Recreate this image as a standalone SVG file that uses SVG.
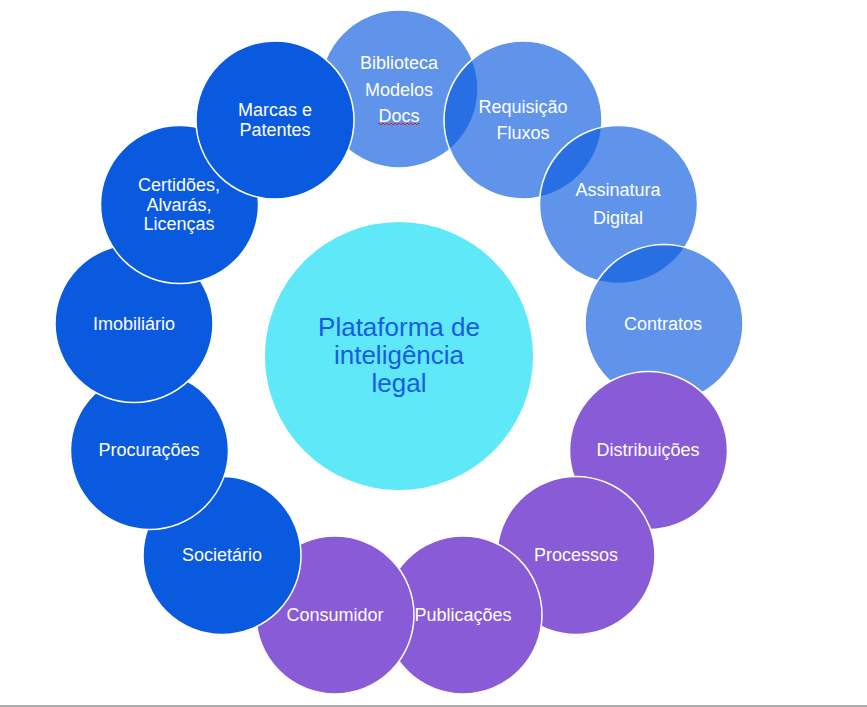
<svg xmlns="http://www.w3.org/2000/svg" width="867" height="707" viewBox="0 0 867 707">
<style>
.c{stroke:#ffffff;stroke-width:1.5}
.dk{fill:#0A5AE0}
.lt{fill:#0A5AE0;fill-opacity:0.65}
.pu{fill:#8A5BD6}
.t{font-family:"Liberation Sans",Arial,sans-serif;font-size:18px;fill:#ffffff;text-anchor:middle}
.ct{font-family:"Liberation Sans",Arial,sans-serif;font-size:26px;fill:#1A5CE0;text-anchor:middle}
</style>
<rect x="0" y="0" width="867" height="707" fill="#ffffff"/>
<g id="center">
<circle cx="399" cy="356" r="134" fill="#5EE8F8"/>
<text class="ct" x="399" y="336">Plataforma de</text>
<text class="ct" x="399" y="364">inteligência</text>
<text class="ct" x="399" y="392">legal</text>
</g>
<g id="biblioteca">
<circle class="c lt" cx="399" cy="89" r="79"/>
<text class="t" x="399" y="69">Biblioteca</text>
<text class="t" x="399" y="96">Modelos</text>
<text class="t" x="399" y="122">Docs</text>
<path d="M378 124 q1 -2 2 0 t2 0 t2 0 t2 0 t2 0 t2 0 t2 0 t2 0 t2 0 t2 0 t2 0 t2 0 t2 0 t2 0 t2 0 t2 0 t2 0 t2 0 t2 0 t2 0 t2 0" fill="none" stroke="#E02020" stroke-width="1"/>
</g>
<g id="requisicao">
<circle class="c lt" cx="523" cy="120" r="79"/>
<text class="t" x="523" y="113">Requisição</text>
<text class="t" x="523" y="139">Fluxos</text>
</g>
<g id="assinatura">
<circle class="c lt" cx="618.5" cy="204.5" r="79"/>
<text class="t" x="618" y="196">Assinatura</text>
<text class="t" x="618" y="224">Digital</text>
</g>
<g id="contratos">
<circle class="c lt" cx="664" cy="323.5" r="79"/>
<text class="t" x="663" y="330">Contratos</text>
</g>
<g id="distribuicoes">
<circle class="c pu" cx="648.5" cy="450.5" r="79"/>
<text class="t" x="648" y="456">Distribuições</text>
</g>
<g id="processos">
<circle class="c pu" cx="576" cy="555.5" r="79"/>
<text class="t" x="576" y="561">Processos</text>
</g>
<g id="publicacoes">
<circle class="c pu" cx="463" cy="615" r="79"/>
<text class="t" x="463" y="621">Publicações</text>
</g>
<g id="consumidor">
<circle class="c pu" cx="335" cy="615" r="79"/>
<text class="t" x="335" y="621">Consumidor</text>
</g>
<g id="societario">
<circle class="c dk" cx="222" cy="555.5" r="79"/>
<text class="t" x="222" y="561">Societário</text>
</g>
<g id="procuracoes">
<circle class="c dk" cx="149.5" cy="450.5" r="79"/>
<text class="t" x="149" y="456">Procurações</text>
</g>
<g id="imobiliario">
<circle class="c dk" cx="134" cy="323.5" r="79"/>
<text class="t" x="134" y="330">Imobiliário</text>
</g>
<g id="certidoes">
<circle class="c dk" cx="179.5" cy="204.5" r="79"/>
<text class="t" x="179" y="191">Certidões,</text>
<text class="t" x="179" y="211">Alvarás,</text>
<text class="t" x="179" y="230">Licenças</text>
</g>
<g id="marcas">
<circle class="c dk" cx="275" cy="120" r="79"/>
<text class="t" x="275" y="116">Marcas e</text>
<text class="t" x="275" y="136">Patentes</text>
</g>
<rect x="0" y="705" width="867" height="2" fill="#ABABAB"/>
</svg>
